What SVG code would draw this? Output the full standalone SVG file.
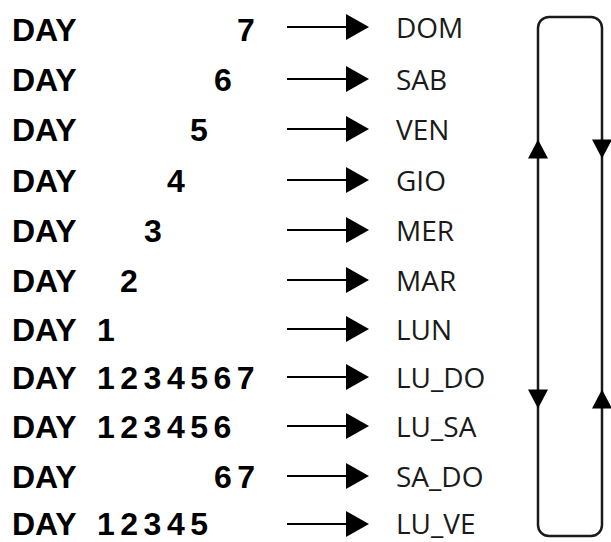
<svg xmlns="http://www.w3.org/2000/svg" width="611" height="542" viewBox="0 0 611 542">
<style>
.day{font-family:"Liberation Sans",Arial,sans-serif;font-weight:bold;font-size:32px;fill:#000}
.num{font-family:"Liberation Sans",Arial,sans-serif;font-weight:bold;font-size:32px;fill:#000;letter-spacing:5.5px}
.lbl{font-family:"Open Sans",sans-serif;font-size:28px;fill:#1a1a1a}
.ln{stroke:#000;stroke-width:2;fill:none}
.loop{stroke:#1a1a1a;stroke-width:2.5;fill:none}
.head{fill:#000}
</style>
<defs>
<g id="arr"><line class="ln" x1="287" y1="0" x2="350" y2="0"/><path class="head" d="M346,-13 L369,0 L346,13 Z"/></g>
<path id="up" class="head" d="M-10,9.5 L0,-9.5 L10,9.5 Z"/>
<path id="down" class="head" d="M-10,-9.5 L0,9.5 L10,-9.5 Z"/>
</defs>
<g id="left-texts">
<g id="r1"><text class="day" x="12" y="41">DAY</text><text class="num" x="237" y="41">7</text></g>
<g id="r2"><text class="day" x="12" y="91">DAY</text><text class="num" x="214" y="91">6</text></g>
<g id="r3"><text class="day" x="12" y="141">DAY</text><text class="num" x="190" y="141">5</text></g>
<g id="r4"><text class="day" x="12" y="192">DAY</text><text class="num" x="167" y="192">4</text></g>
<g id="r5"><text class="day" x="12" y="242">DAY</text><text class="num" x="144" y="242">3</text></g>
<g id="r6"><text class="day" x="12" y="292">DAY</text><text class="num" x="120" y="292">2</text></g>
<g id="r7"><text class="day" x="12" y="341">DAY</text><text class="num" x="97" y="341">1</text></g>
<g id="r8"><text class="day" x="12" y="389">DAY</text><text class="num" x="97" y="389">1234567</text></g>
<g id="r9"><text class="day" x="12" y="438">DAY</text><text class="num" x="97" y="438">123456</text></g>
<g id="r10"><text class="day" x="12" y="488">DAY</text><text class="num" x="214" y="488">67</text></g>
<g id="r11"><text class="day" x="12" y="535">DAY</text><text class="num" x="97" y="535">12345</text></g>
</g>
<g id="labels">
<g id="n-dom"><text class="lbl" x="396" y="38">DOM</text></g>
<g id="n-sab"><text class="lbl" x="396" y="90">SAB</text></g>
<g id="n-ven"><text class="lbl" x="396" y="140">VEN</text></g>
<g id="n-gio"><text class="lbl" x="396" y="191">GIO</text></g>
<g id="n-mer"><text class="lbl" x="396" y="241">MER</text></g>
<g id="n-mar"><text class="lbl" x="396" y="291">MAR</text></g>
<g id="n-lun"><text class="lbl" x="396" y="340">LUN</text></g>
<g id="n-ludo"><text class="lbl" x="396" y="388">LU_DO</text></g>
<g id="n-lusa"><text class="lbl" x="396" y="437">LU_SA</text></g>
<g id="n-sado"><text class="lbl" x="396" y="487">SA_DO</text></g>
<g id="n-luve"><text class="lbl" x="396" y="534">LU_VE</text></g>
</g>
<g id="connectors">
<use href="#arr" y="27"/>
<use href="#arr" y="79"/>
<use href="#arr" y="129"/>
<use href="#arr" y="180"/>
<use href="#arr" y="230"/>
<use href="#arr" y="280"/>
<use href="#arr" y="329"/>
<use href="#arr" y="377"/>
<use href="#arr" y="426"/>
<use href="#arr" y="476"/>
<use href="#arr" y="524"/>
<rect class="loop" x="538" y="17" width="64" height="519" rx="11" ry="11"/>
<use href="#up" x="538" y="149"/>
<use href="#down" x="602" y="149"/>
<use href="#down" x="538" y="399"/>
<use href="#up" x="602" y="399"/>
</g>
</svg>
